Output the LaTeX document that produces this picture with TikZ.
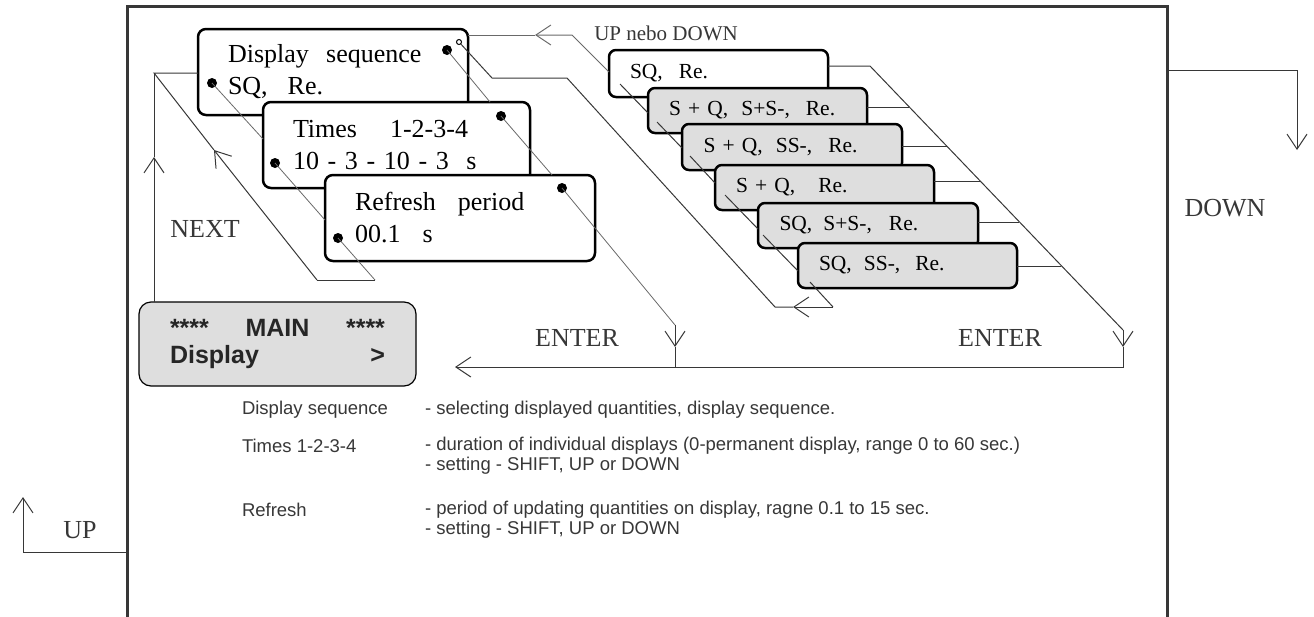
\documentclass[tikz,border=0pt]{standalone}
\usepackage{fontspec}
\setmainfont{Liberation Serif}
\setsansfont{Liberation Sans}
\usetikzlibrary{arrows.meta, positioning, calc}
\definecolor{panelgray}{RGB}{222,222,222}
\definecolor{linegray}{RGB}{55,55,55}
\definecolor{wiregray}{RGB}{105,105,105}

\begin{document}
\begin{tikzpicture}[
    x=1pt, y=-1pt,
    every node/.style={inner sep=0pt, outer sep=0pt},
    menubox/.style={draw, line width=2.5pt, rounded corners=8pt, fill=white, anchor=north west,
        minimum width=270pt, minimum height=86pt, text width=210pt, align=left,
        font=\fontsize{26}{32}\selectfont},
    seqbox/.style={draw, line width=2.5pt, rounded corners=7pt, fill=panelgray, anchor=north west,
        minimum width=219pt, minimum height=45pt, text width=177pt, align=left,
        font=\fontsize{21.5}{25}\selectfont},
    dot/.style={circle, fill=black, minimum size=10pt},
    dotwire/.style={line width=0.8pt, wiregray},
    flow/.style={line width=1pt, linegray},
    flowarrow/.style={flow, -{Straight Barb[length=15pt, width=20pt]}},
    keytext/.style={font=\fontsize{26}{30}\selectfont, text=linegray},
    note/.style={anchor=west, align=left, text=linegray, font=\sffamily\fontsize{18.5}{20}\selectfont}
]
    \useasboundingbox (0,0) rectangle (1314,616);

    % Frame and main menu
    \node[draw, line width=3pt, linegray, anchor=north west, minimum width=1040pt, minimum height=660pt] (frame) at (127,6) {};
    \node[draw, line width=1.2pt, rounded corners=12pt, fill=panelgray, anchor=north west,
        minimum width=277pt, minimum height=84pt, align=center, text=black!85,
        font=\sffamily\bfseries\fontsize{25}{27}\selectfont] (main) at (139,302)
        {\makebox[215pt]{****\hfill MAIN\hfill ****}\\ \makebox[215pt]{Display\hfill >}};

    % Display submenu
    \node[menubox] (dispseq) at (198,29) {Display\ \ sequence\\ SQ,\hspace{20pt}Re.};
    \node[menubox, minimum width=267pt, text width=207pt] (times) at (263,102) {Times\hspace{33pt}1-2-3-4\\ 10 - 3 - 10 - 3\ \ s};
    \node[menubox] (refresh) at (325,175) {Refresh\hspace{22pt}period\\ 00.1\hspace{22pt}s};

    \node[dot] (seqL) at (212,83) {};
    \node[dot] (seqR) at (447,50) {};
    \node[draw, circle, line width=1pt, fill=white, minimum size=5pt] (seqO) at (459,42) {};
    \node[dot] (timesL) at (275,163) {};
    \node[dot] (timesR) at (501,116) {};
    \node[dot] (refL) at (338,238) {};
    \node[dot] (refR) at (562,188) {};

    % Sequence choices
    \node[seqbox, fill=white, minimum height=47pt] (sq1) at (609,50) {SQ,\hspace{16pt}Re.};
    \node[seqbox] (sq2) at (648,88) {S + Q,\hspace{13pt}S+S-,\hspace{16pt}Re.};
    \node[seqbox, minimum width=220pt, minimum height=46pt] (sq3) at (682,124) {S + Q,\hspace{13pt}SS-,\hspace{16pt}Re.};
    \node[seqbox] (sq4) at (715,165) {S + Q,\hspace{23pt}Re.};
    \node[seqbox, minimum width=220pt] (sq5) at (758,203) {SQ,\hspace{11pt}S+S-,\hspace{17pt}Re.};
    \node[seqbox] (sq6) at (798,243) {SQ,\hspace{12pt}SS-,\hspace{15pt}Re.};

    % Labels
    \node[keytext] (lblnext) at (205,229) {NEXT};
    \node[keytext] (lblenter) at (577,338) {ENTER};
    \node[keytext] (lblenter2) at (1000,338) {ENTER};
    \node[keytext] (lbldown) at (1225,208) {DOWN};
    \node[keytext] (lblup) at (80,530) {UP};
    \node[text=linegray, font=\fontsize{21}{24}\selectfont] (lblupdown) at (666,33) {UP nebo DOWN};

    % Notes
    \node[note] (n1) at (242,410) {Display sequence};
    \node[note] (d1) at (425,410) {- selecting displayed quantities, display sequence.};
    \node[note] (n2) at (242,446) {Times 1-2-3-4};
    \node[note] (d2) at (425,456) {- duration of individual displays (0-permanent display, range 0 to 60 sec.)\\- setting - SHIFT, UP or DOWN};
    \node[note] (n3) at (242,510) {Refresh};
    \node[note] (d3) at (425,520) {- period of updating quantities on display, ragne 0.1 to 15 sec.\\- setting - SHIFT, UP or DOWN};

    % Bend points
    \coordinate (seqRend) at (490,102);
    \coordinate (timesRend) at (552,175);
    \coordinate (nxA) at (375,280);
    \coordinate (nxB) at (317,280);
    \coordinate (nxMid) at (214,150);
    \coordinate (nxTop) at (154,73);
    \coordinate (nxUp) at (154,157);
    \coordinate (entA) at (675,325);
    \coordinate (entTip) at (675,347);
    \coordinate (dgTop) at (870,66);
    \coordinate (dgBot) at (1123,330);
    \coordinate (dgTip) at (1123,347);
    \coordinate (entB) at (1123,367);
    \coordinate (back) at (455,367);
    \coordinate (topA) at (572,35);
    \coordinate (topTip) at (535,35);
    \coordinate (rtA) at (833,307);
    \coordinate (rtTip) at (793,307);
    \coordinate (rtB) at (775,307);
    \coordinate (rtC) at (567,78);
    \coordinate (rtD) at (492,78);
    \coordinate (dnA) at (1297,70);
    \coordinate (dnTip) at (1297,150);
    \coordinate (upA) at (23,552);
    \coordinate (upTip) at (23,497);
    \coordinate (k1-a) at (620,84);  \coordinate (k1-b) at (648,113);
    \coordinate (k2-a) at (657,122); \coordinate (k2-b) at (682,148);
    \coordinate (k3-a) at (690,156); \coordinate (k3-b) at (715,183);
    \coordinate (k4-a) at (725,195); \coordinate (k4-b) at (758,229);
    \coordinate (k5-a) at (763,235); \coordinate (k5-b) at (798,271);
    \coordinate (k6-a) at (810,282);

    % Dot links
    \draw[dotwire] (seqL.center) -- (times.north west |- 0,139);
    \draw[dotwire] (seqR.center) -- (seqRend);
    \draw[dotwire] (timesL.center) -- (refresh.north west |- 0,220);
    \draw[dotwire] (timesR.center) -- (timesRend);
    \draw[dotwire] (refL.center) -- (nxA);
    \draw[dotwire] (refR.center) -- (entA);

    % NEXT
    \draw[flow] (nxA) -- (nxB);
    \draw[flowarrow] (nxB) -- (nxMid);
    \draw[flow] (nxMid) -- (nxTop) -- (nxTop -| dispseq.west);
    \draw[flowarrow] (main.north -| nxTop) -- (nxUp);
    \draw[flow] (nxUp) -- (nxTop);

    % ENTER
    \draw[flowarrow] (entA) -- (entTip);
    \draw[flow] (entTip) -- (entTip |- back);
    \draw[flow] (sq1.east |- dgTop) -- (dgTop) -- (dgBot);
    \draw[flowarrow] (dgBot) -- (dgTip);
    \draw[flowarrow] (dgTip) -- (entB) -- (back);
    \foreach \b/\y/\x in {sq2/107/909, sq3/146/947, sq4/181/980, sq5/222/1019, sq6/266/1061}
        \draw[flow] (\b.east |- 0,\y) -- (\x,\y);

    % UP / DOWN within the choices
    \draw[flowarrow, wiregray] (sq1.west |- 0,72) -- (topA) -- (topTip);
    \draw[flow, wiregray] (topTip) -- (dispseq.east |- topTip);
    \foreach \i in {1,...,5}
        \draw[flow] (k\i-a) -- (k\i-b);
    \draw[flow] (k6-a) -- (rtA);
    \draw[flowarrow] (rtA) -- (rtTip);
    \draw[flow] (rtTip) -- (rtB) -- (rtC) -- (rtD) -- (seqO);

    % UP / DOWN of the main menu
    \draw[flowarrow] (frame.east |- dnA) -- (dnA) -- (dnTip);
    \draw[flowarrow] (frame.west |- upA) -- (upA) -- (upTip);
\end{tikzpicture}
\end{document}
